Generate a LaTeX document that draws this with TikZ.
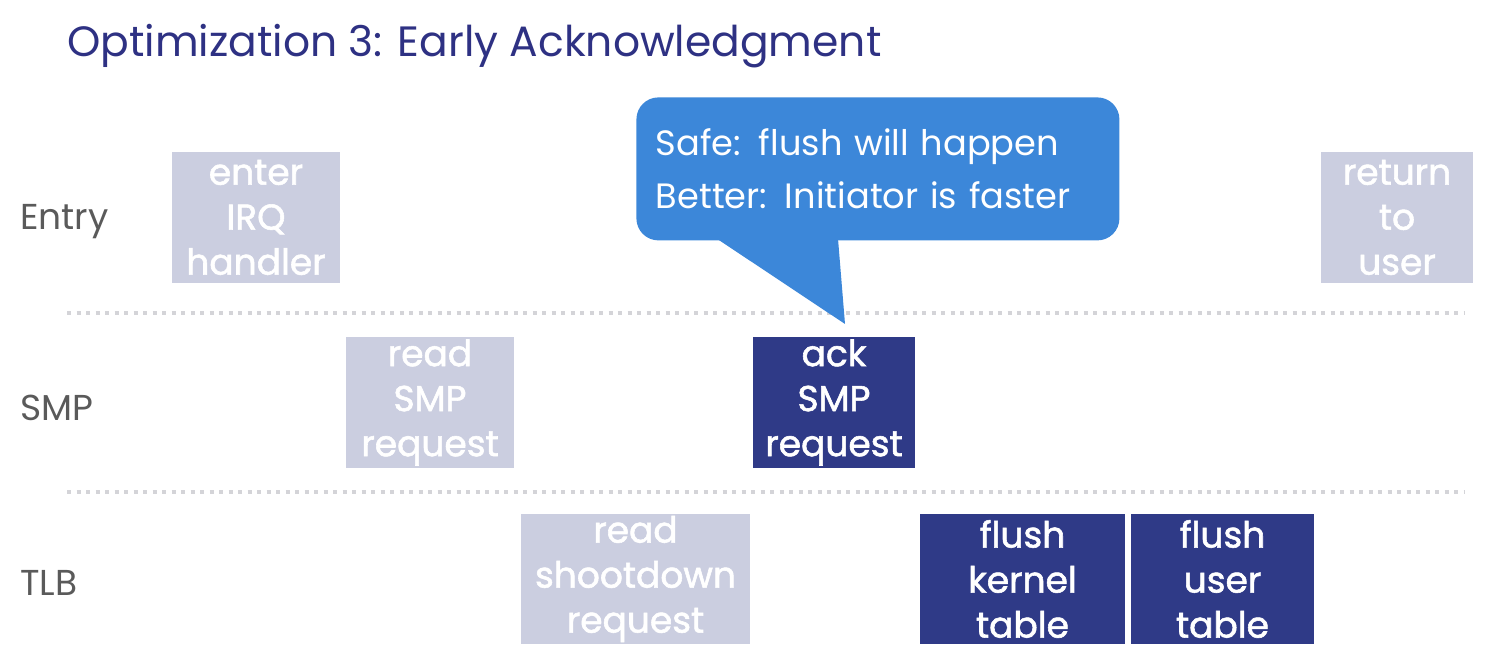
\documentclass[tikz,border=0pt]{standalone}
\usepackage{fontspec}
\setmainfont{Poppins}
\newfontfamily\boxfont{Poppins}[FakeBold=1.6]
\usetikzlibrary{positioning}
\definecolor{titleblue}{HTML}{2E3183}
\definecolor{rowgray}{HTML}{5A5A5A}
\definecolor{paleblue}{HTML}{CBCEE0}
\definecolor{deepblue}{HTML}{2F3A87}
\definecolor{callblue}{HTML}{3C87D9}
\definecolor{dotgray}{HTML}{D4D4D8}
\begin{document}
\begin{tikzpicture}[
        x = 0.5pt, y = -0.5pt,
        box/.style = {
            fill = #1,
            text = white,
            font = \boxfont\fontsize{18}{22.5}\selectfont,
            align = center,
            anchor = north west,
            inner sep = 0pt,
            outer sep = 0pt,
            minimum height = 65.5pt
        },
        box/.default = paleblue,
        row/.style = {anchor = west, text = rowgray, font = \fontsize{18}{22}\selectfont},
        sep line/.style = {dotgray, line width = 2pt, dash pattern = on 2pt off 2.75pt},
        node distance = {3pt}
        ]
        \useasboundingbox (0,0) rectangle (1497,672);
%
        \node[anchor=base west, text=titleblue, font=\fontsize{21.2}{26}\selectfont, inner sep=0pt] (title) at (67,57) {Optimization 3: Early Acknowledgment};
%
        \node[row] (entry) at (13,222) {Entry};
        \node[row] (smp) at (13,408) {SMP};
        \node[row] (tlb) at (13,583) {TLB};
%
        \coordinate (d1w) at (67,313);
        \coordinate (d1e) at (1465,313);
        \coordinate (d2w) at (67,492);
        \coordinate (d2e) at (1465,492);
        \draw[sep line] (d1w) -- (d1e);
        \draw[sep line] (d2w) -- (d2e);
%
        \node[box, minimum width=84pt] (enter) at (172,152) {enter\\IRQ\\handler};
        \node[box, minimum width=76pt] (return) at (1321,152) {return\\to\\user};
%
        \node[box, minimum width=84pt] (readsmp) at (346,337) {read\\SMP\\request};
        \node[box=deepblue, minimum width=81pt] (ack) at (753,337) {ack\\SMP\\request};
%
        \node[box, minimum width=114.5pt, minimum height=65pt] (readtlb) at (521,514) {read\\shootdown\\request};
        \node[box=deepblue, minimum width=102.5pt, minimum height=65pt] (kernel) at (920,514) {flush\\kernel\\table};
        \node[box=deepblue, minimum width=91.5pt, minimum height=65pt, right=of kernel] (user) {flush\\user\\table};
%
        \node[fill=callblue, text=white, rounded corners=11pt, anchor=north west, minimum width=241.5pt, minimum height=71.5pt,
              text width=222pt, inner xsep=9.5pt, align=left, font=\fontsize{17.6}{26.5}\selectfont] (callout) at (636,97)
              {Safe: flush will happen\\Better: Initiator is faster};
        \coordinate (tip) at (845,324);
        \fill[callblue] ([xshift=40.5pt, yshift=1pt]callout.south west) -- (tip) -- ([xshift=101pt, yshift=1pt]callout.south west) -- cycle;
%
\end{tikzpicture}
\end{document}
